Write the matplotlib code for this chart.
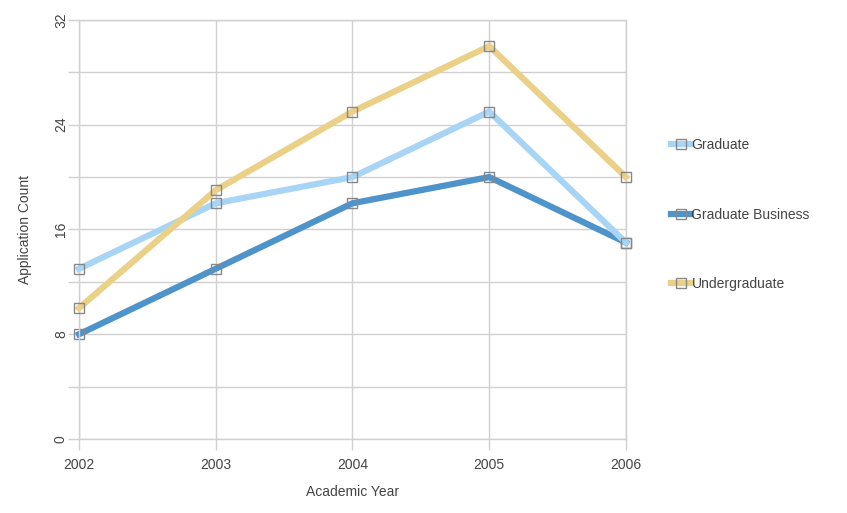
import matplotlib
matplotlib.use("Agg")
import matplotlib.pyplot as plt
from matplotlib.ticker import MultipleLocator

plt.rcParams['font.family'] = ['Liberation Sans', 'DejaVu Sans']

years = [2002, 2003, 2004, 2005, 2006]
graduate = [13, 18, 20, 25, 15]
graduate_business = [8, 13, 18, 20, 15]
undergraduate = [10, 19, 25, 30, 20]

series = [
    ("Graduate", graduate, "#a8d5f5", 3),
    ("Graduate Business", graduate_business, "#4f93cb", 2),
    ("Undergraduate", undergraduate, "#ebd088", 4),
]

fig = plt.figure(figsize=(8.47, 5.13), dpi=100)
ax = fig.add_axes([0.0933, 0.1442, 0.6457, 0.817])

for name, vals, col, z in series:
    ax.plot(years, vals, color=col, lw=4.5, label=name, zorder=z,
            marker="s", ms=7, mfc="none", mec="#888888", mew=1.0,
            solid_joinstyle="miter", clip_on=False)

ax.set_xlim(2002, 2006)
ax.set_ylim(0, 32)
ax.set_xticks(years)
ax.yaxis.set_major_locator(MultipleLocator(8))
ax.yaxis.set_minor_locator(MultipleLocator(4))
ax.grid(True, which="both", color="#d0d0d0", lw=1.0)
ax.set_axisbelow(True)
for s in ax.spines.values():
    s.set_color("#d0d0d0")
    s.set_linewidth(1.0)
ax.tick_params(axis="both", which="both", length=8, color="#d0d0d0", width=1.0,
               labelsize=10, labelcolor="#444444")
ax.tick_params(axis="x", pad=6)
ax.tick_params(axis="y", pad=0)
for lbl in ax.get_yticklabels():
    lbl.set_rotation(90)
    lbl.set_va("center")

ax.set_xlabel("Academic Year", fontsize=10, color="#444444", labelpad=9)
ax.set_ylabel("Application Count", fontsize=10, color="#444444", labelpad=16)

leg = ax.legend(loc="center left", bbox_to_anchor=(1.06, 0.535), frameon=False,
                fontsize=10, labelspacing=4.0, handlelength=1.4, handletextpad=0.05,
                labelcolor="#444444")

fig.savefig("out.png", dpi=100)
